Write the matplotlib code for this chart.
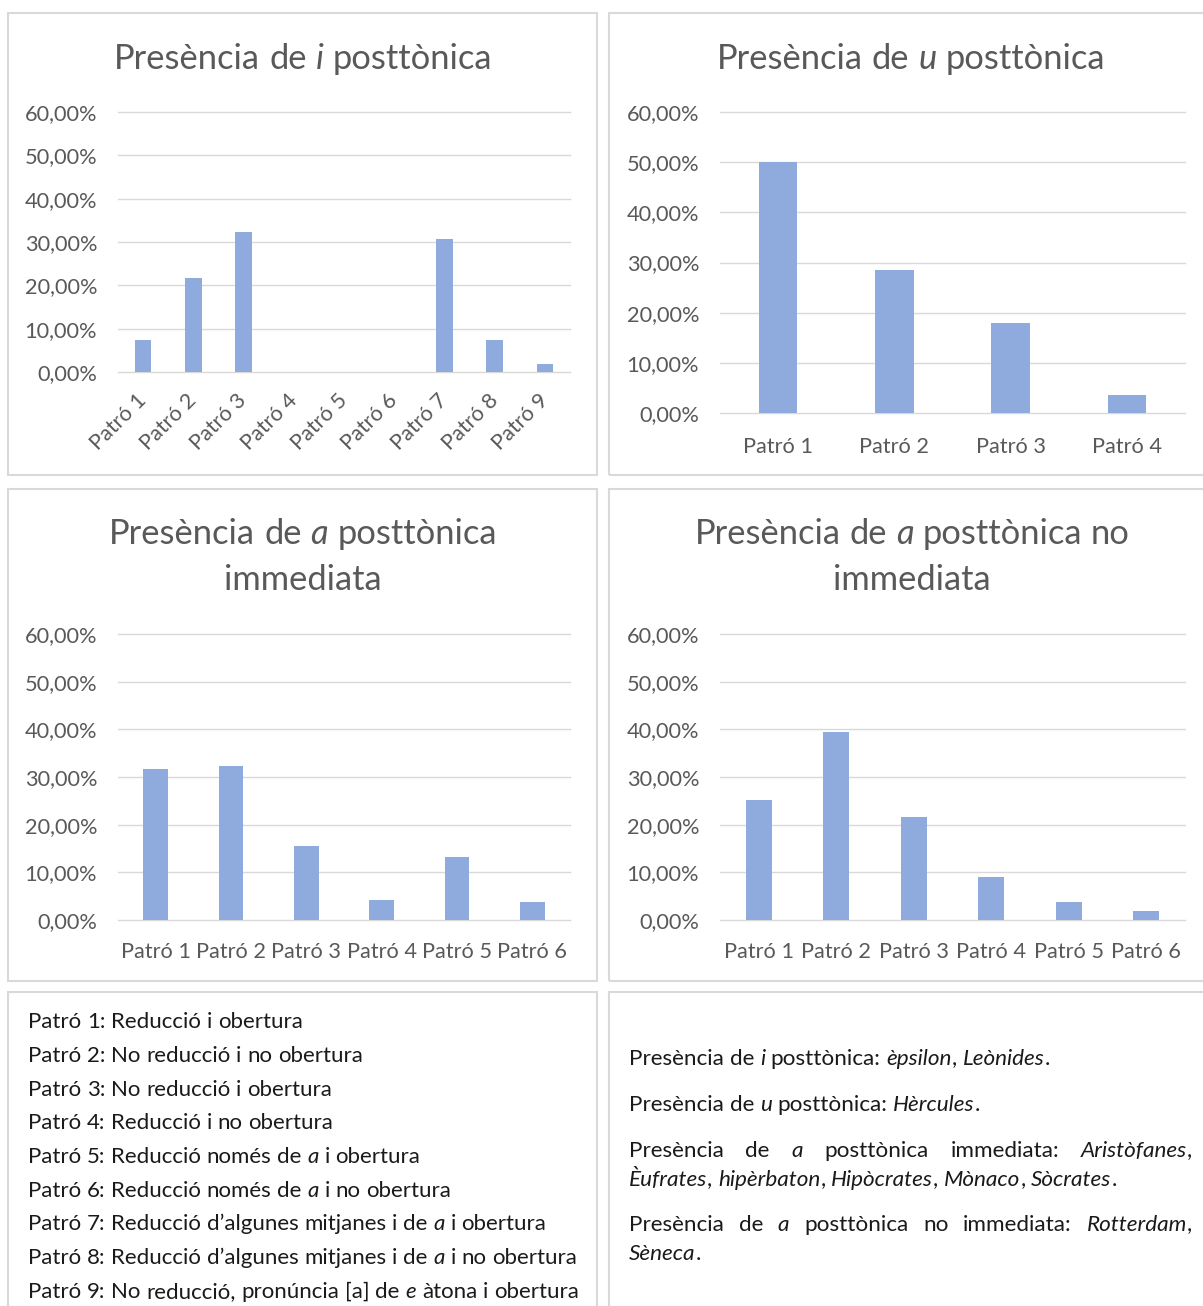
import matplotlib
matplotlib.use("Agg")
import matplotlib.pyplot as plt
from matplotlib.patches import Rectangle
from matplotlib.ticker import FuncFormatter

# ---- data ----
patrons_i = ["Patró 1", "Patró 2", "Patró 3", "Patró 4", "Patró 5",
             "Patró 6", "Patró 7", "Patró 8", "Patró 9"]
valors_i = [7.35, 21.6, 32.4, 0, 0, 0, 30.6, 7.35, 1.9]

patrons_u = ["Patró 1", "Patró 2", "Patró 3", "Patró 4"]
valors_u = [50.0, 28.57, 17.86, 3.57]

patrons_a = ["Patró 1", "Patró 2", "Patró 3", "Patró 4", "Patró 5", "Patró 6"]
valors_a_imm = [31.7, 32.3, 15.6, 4.3, 13.3, 3.8]
valors_a_noimm = [25.2, 39.4, 21.6, 9.1, 3.8, 1.9]

y_ticks = [0, 10, 20, 30, 40, 50, 60]

titols = [["Presència de *i* posttònica"],
          ["Presència de *u* posttònica"],
          ["Presència de *a* posttònica", "immediata"],
          ["Presència de *a* posttònica no", "immediata"]]

llegenda = [
    "Patró 1: Reducció i obertura",
    "Patró 2: No reducció i no obertura",
    "Patró 3: No reducció i obertura",
    "Patró 4: Reducció i no obertura",
    "Patró 5: Reducció només de *a* i obertura",
    "Patró 6: Reducció només de *a* i no obertura",
    "Patró 7: Reducció d’algunes mitjanes i de *a* i obertura",
    "Patró 8: Reducció d’algunes mitjanes i de *a* i no obertura",
    "Patró 9: No reducció, pronúncia [a] de *e* àtona i obertura",
]

exemples = [
    ("Presència de *i* posttònica: *èpsilon*, *Leònides*.", False),
    ("Presència de *u* posttònica: *Hèrcules*.", False),
    ("Presència de *a* posttònica immediata: *Aristòfanes*,", True),
    ("*Èufrates*, *hipèrbaton*, *Hipòcrates*, *Mònaco*, *Sòcrates*.", False),
    ("Presència de *a* posttònica no immediata: *Rotterdam*,", True),
    ("*Sèneca*.", False),
]

# ---- style ----
W, H = 1203, 1306
FONT = "Lato"
GREY = "#595959"
GRID = "#D9D9D9"
BAR = "#8FAADC"
TXT = "#1a1a1a"
TICK = 15.7
TSIZE = 24.8

plt.rcParams["font.family"] = [FONT, "DejaVu Sans"]

fig = plt.figure(figsize=(W / 100, H / 100), dpi=100)
fig.patch.set_facecolor("white")
renderer = fig.canvas.get_renderer()


def measure(s, italic, size):
    t = fig.text(0, 0, s, fontsize=size, style="italic" if italic else "normal")
    w = t.get_window_extent(renderer).width
    t.remove()
    return w


def parse(s):
    # *...* marks italic; returns list of words, each a list of (text, italic)
    words, runs, buf, it = [], [], "", False
    for ch in s + " ":
        if ch == "*":
            if buf:
                runs.append((buf, it))
                buf = ""
            it = not it
        elif ch == " ":
            if buf:
                runs.append((buf, it))
                buf = ""
            if runs:
                words.append(runs)
                runs = []
        else:
            buf += ch
    return words


def draw_line(s, x, y, size, color, width=None, center=False):
    words = parse(s)
    widths = [[measure(t, i, size) for t, i in w] for w in words]
    wsum = [sum(ws) for ws in widths]
    gap = measure("a a", False, size) - measure("aa", False, size)
    if width is not None and len(words) > 1:
        gap = (width - sum(wsum)) / (len(words) - 1)
    total = sum(wsum) + gap * (len(words) - 1)
    if center:
        x = x - total / 2
    for w, ws in zip(words, widths):
        for (t, i), tw in zip(w, ws):
            fig.text(x / W, 1 - y / H, t, fontsize=size, color=color,
                     style="italic" if i else "normal", va="baseline", ha="left")
            x += tw
        x += gap


def border(l, t, r, b):
    fig.add_artist(Rectangle((l / W, 1 - b / H), (r - l) / W, (b - t) / H,
                             transform=fig.transFigure, fill=False,
                             ec=GRID, lw=1.5))


def bar_chart(box, labels, values, xpad, rotate=False):
    l, t, r, b = box
    ax = fig.add_axes([l / W, 1 - b / H, (r - l) / W, (b - t) / H])
    x = list(range(len(labels)))
    ax.bar(x, values, width=0.33, color=BAR, zorder=2)
    ax.set_xlim(-0.5, len(labels) - 0.5)
    ax.set_ylim(0, 60)
    ax.set_yticks(y_ticks)
    ax.yaxis.set_major_formatter(FuncFormatter(lambda v, p: f"{v:.2f}%".replace(".", ",")))
    for v in y_ticks:
        ax.axhline(v, color=GRID, lw=1.0, zorder=1, clip_on=False)
    for sp in ax.spines.values():
        sp.set_visible(False)
    ax.set_xticks(x)
    if rotate:
        ax.set_xticklabels(labels, rotation=45, ha="right", va="center",
                           rotation_mode="anchor")
    else:
        ax.set_xticklabels(labels)
    ax.tick_params(axis="x", pad=xpad)
    ax.tick_params(axis="both", length=0, labelsize=TICK, labelcolor=GREY)
    ax.tick_params(axis="y", pad=15)
    ax.set_facecolor("none")
    return ax


# ---- panels ----
border(8, 13, 597, 475)
border(609, 13, 1215, 475)
border(8, 489, 597, 981)
border(609, 489, 1215, 981)
border(8, 992, 597, 1320)
border(609, 992, 1215, 1320)

bar_chart((118, 112, 570, 372), patrons_i, valors_i, 18, rotate=True)
bar_chart((720, 112, 1185, 413), patrons_u, valors_u, 17)
bar_chart((118, 634, 570, 920), patrons_a, valors_a_imm, 16)
bar_chart((720, 634, 1185, 920), patrons_a, valors_a_noimm, 16)

draw_line(titols[0][0], 303, 69, TSIZE, GREY, center=True)
draw_line(titols[1][0], 911, 69, TSIZE, GREY, center=True)
draw_line(titols[2][0], 303, 544, TSIZE, GREY, center=True)
draw_line(titols[2][1], 303, 590, TSIZE, GREY, center=True)
draw_line(titols[3][0], 912, 544, TSIZE, GREY, center=True)
draw_line(titols[3][1], 912, 590, TSIZE, GREY, center=True)

# ---- text boxes ----
for k, s in enumerate(llegenda):
    draw_line(s, 28, 1028 + k * 33.75, 16, TXT)

ex_y = [1065, 1111, 1157, 1186, 1231, 1260]
for (s, just), y in zip(exemples, ex_y):
    draw_line(s, 629, y, 16.2, TXT, width=563 if just else None)

fig.savefig("out.png", dpi=100)
